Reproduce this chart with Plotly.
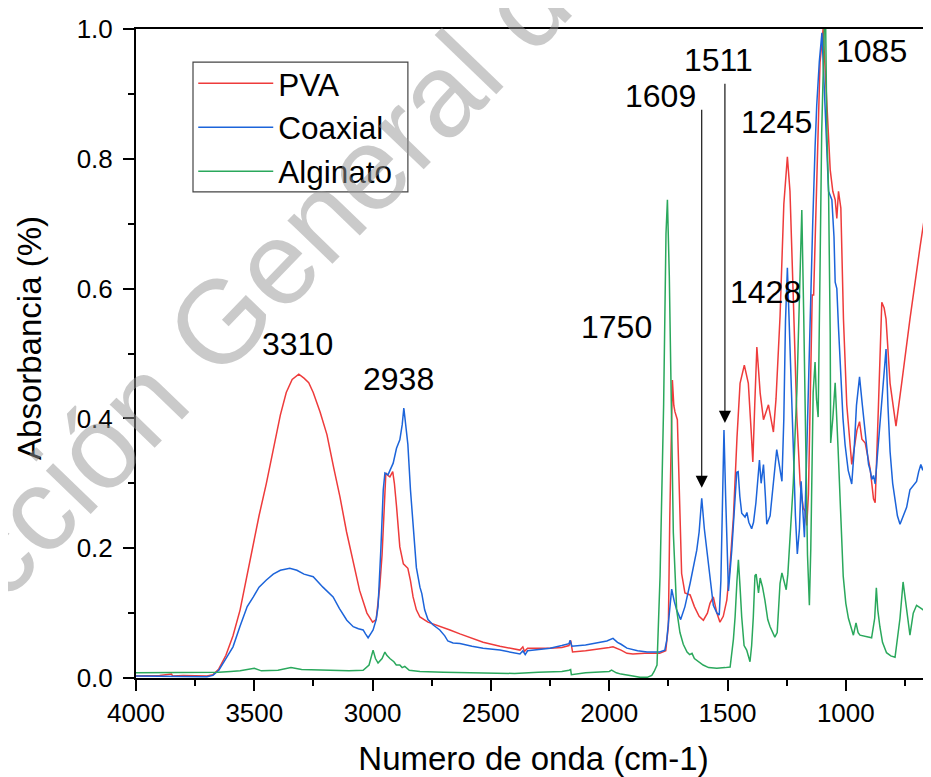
import plotly.graph_objects as go

# FTIR spectra, values (wavenumber cm-1, absorbance)
pva_wn = [4000, 3900, 3850, 3845, 3800, 3720, 3700, 3675, 3650, 3620, 3590, 3560, 3530, 3504, 3480,
          3449, 3420, 3390, 3365, 3340, 3312, 3290, 3270, 3251, 3222, 3193, 3165, 3138, 3110, 3082,
          3055, 3024, 3000, 2985, 2970, 2960, 2950, 2944, 2935, 2927, 2915, 2908, 2899, 2885, 2870,
          2851, 2840, 2829, 2815, 2800, 2766, 2716, 2673, 2631, 2580, 2533, 2462, 2410, 2377, 2365,
          2358, 2345, 2322, 2300, 2250, 2200, 2170, 2163, 2155, 2100, 2050, 2000, 1984, 1950, 1925,
          1900, 1850, 1787, 1761, 1750, 1744, 1738, 1733, 1727, 1722, 1712, 1704, 1694, 1680, 1658,
          1640, 1620, 1602, 1585, 1574, 1560, 1545, 1532, 1518, 1503, 1490, 1475, 1460, 1447, 1429,
          1412, 1400, 1393, 1385, 1376, 1368, 1362, 1348, 1327, 1306, 1295, 1278, 1262, 1247, 1236,
          1222, 1207, 1193, 1180, 1172, 1165, 1158, 1150, 1142, 1136, 1123, 1109, 1096, 1080, 1066,
          1055, 1045, 1038, 1031, 1021, 1010, 996, 975, 962, 953, 942, 932, 918, 897, 883,
          876, 862, 848, 838, 830, 813, 788, 764, 729, 686, 651, 640]
pva_abs = [0.003, 0.004, 0.006, 0.003, 0.004, 0.003, 0.003, 0.005, 0.014, 0.035, 0.065, 0.105, 0.160, 0.205, 0.250,
           0.300, 0.350, 0.405, 0.440, 0.460, 0.468, 0.462, 0.455, 0.440, 0.410, 0.375, 0.325, 0.279, 0.225, 0.177,
           0.135, 0.100, 0.086, 0.090, 0.140, 0.190, 0.280, 0.316, 0.312, 0.310, 0.318, 0.300, 0.265, 0.202, 0.176,
           0.169, 0.150, 0.125, 0.105, 0.094, 0.086, 0.080, 0.074, 0.068, 0.061, 0.055, 0.049, 0.045, 0.043, 0.048,
           0.041, 0.046, 0.046, 0.045, 0.046, 0.047, 0.050, 0.058, 0.040, 0.042, 0.044, 0.047, 0.048, 0.043, 0.038,
           0.037, 0.038, 0.038, 0.042, 0.080, 0.248, 0.400, 0.459, 0.420, 0.410, 0.398, 0.292, 0.161, 0.131, 0.128,
           0.110, 0.095, 0.089, 0.100, 0.115, 0.125, 0.100, 0.086, 0.095, 0.120, 0.170, 0.248, 0.370, 0.454, 0.482,
           0.454, 0.380, 0.333, 0.420, 0.510, 0.470, 0.439, 0.398, 0.421, 0.379, 0.430, 0.557, 0.730, 0.803, 0.750,
           0.586, 0.402, 0.299, 0.262, 0.257, 0.235, 0.283, 0.450, 0.590, 0.590, 0.750, 0.948, 1.000, 0.882, 0.783,
           0.750, 0.737, 0.708, 0.750, 0.724, 0.553, 0.421, 0.329, 0.360, 0.382, 0.395, 0.368, 0.362, 0.322, 0.276,
           0.270, 0.421, 0.579, 0.570, 0.553, 0.454, 0.388, 0.454, 0.553, 0.665, 0.750, 0.765]

coax_wn = [4000, 3900, 3800, 3700, 3675, 3650, 3620, 3590, 3560, 3530, 3504, 3480, 3449, 3420, 3390,
           3350, 3320, 3290, 3251, 3210, 3167, 3140, 3109, 3082, 3060, 3040, 3030, 3019, 3005, 2998,
           2985, 2977, 2965, 2955, 2948, 2935, 2913, 2899, 2885, 2875, 2868, 2860, 2851, 2840, 2829,
           2815, 2800, 2792, 2780, 2766, 2745, 2716, 2695, 2682, 2660, 2631, 2580, 2533, 2462, 2410,
           2377, 2365, 2355, 2345, 2322, 2250, 2200, 2170, 2165, 2158, 2100, 2050, 2010, 1984, 1965,
           1950, 1925, 1880, 1840, 1787, 1765, 1757, 1745, 1736, 1725, 1715, 1698, 1680, 1658, 1630,
           1620, 1609, 1598, 1588, 1574, 1560, 1545, 1535, 1528, 1522, 1515, 1508, 1503, 1496, 1482,
           1470, 1461, 1455, 1448, 1440, 1433, 1426, 1418, 1410, 1398, 1390, 1380, 1370, 1365, 1358,
           1352, 1348, 1340, 1334, 1320, 1305, 1292, 1282, 1270, 1262, 1255, 1247, 1240, 1228, 1222,
           1213, 1205, 1196, 1189, 1182, 1175, 1165, 1151, 1140, 1130, 1123, 1112, 1101, 1090, 1080,
           1073, 1059, 1050, 1045, 1038, 1031, 1024, 1012, 1003, 990, 975, 965, 955, 942, 930,
           918, 904, 897, 890, 883, 876, 865, 855, 843, 830, 822, 813, 802, 792, 782,
           771, 757, 743, 729, 715, 701, 692, 683, 675, 668, 660, 651, 640]
coax_abs = [0.003, 0.003, 0.002, 0.002, 0.004, 0.012, 0.030, 0.048, 0.080, 0.110, 0.125, 0.140, 0.151, 0.160, 0.166,
            0.169, 0.166, 0.160, 0.156, 0.140, 0.125, 0.107, 0.089, 0.079, 0.076, 0.074, 0.068, 0.062, 0.070, 0.074,
            0.090, 0.110, 0.200, 0.290, 0.316, 0.313, 0.331, 0.354, 0.367, 0.390, 0.416, 0.390, 0.360, 0.290, 0.230,
            0.170, 0.140, 0.130, 0.105, 0.090, 0.082, 0.074, 0.065, 0.057, 0.054, 0.053, 0.049, 0.046, 0.043, 0.040,
            0.037, 0.042, 0.036, 0.042, 0.043, 0.046, 0.050, 0.053, 0.058, 0.049, 0.051, 0.054, 0.057, 0.061, 0.055,
            0.052, 0.046, 0.042, 0.040, 0.040, 0.043, 0.058, 0.100, 0.137, 0.118, 0.105, 0.090, 0.110, 0.146, 0.197,
            0.225, 0.277, 0.230, 0.197, 0.156, 0.112, 0.100, 0.097, 0.150, 0.250, 0.382, 0.280, 0.200, 0.134, 0.197,
            0.270, 0.317, 0.318, 0.280, 0.254, 0.250, 0.248, 0.255, 0.240, 0.230, 0.240, 0.270, 0.320, 0.336, 0.300,
            0.320, 0.329, 0.280, 0.237, 0.250, 0.300, 0.352, 0.330, 0.303, 0.400, 0.550, 0.632, 0.560, 0.440, 0.356,
            0.250, 0.191, 0.230, 0.303, 0.260, 0.217, 0.350, 0.570, 0.700, 0.817, 0.882, 0.950, 0.994, 0.900, 0.800,
            0.750, 0.737, 0.680, 0.610, 0.600, 0.540, 0.487, 0.400, 0.359, 0.320, 0.299, 0.350, 0.420, 0.464, 0.420,
            0.382, 0.329, 0.320, 0.306, 0.312, 0.299, 0.350, 0.395, 0.460, 0.507, 0.420, 0.349, 0.300, 0.276, 0.250,
            0.237, 0.250, 0.263, 0.290, 0.296, 0.303, 0.318, 0.329, 0.320, 0.332, 0.328, 0.329, 0.335]

alg_wn = [4000, 3800, 3700, 3650, 3600, 3560, 3500, 3470, 3400, 3345, 3300, 3200, 3100, 3040, 3015,
          2998, 2988, 2977, 2960, 2948, 2940, 2927, 2910, 2900, 2885, 2875, 2864, 2845, 2830, 2800,
          2700, 2600, 2500, 2400, 2300, 2200, 2170, 2163, 2160, 2100, 2000, 1990, 1970, 1950, 1900,
          1870, 1840, 1820, 1810, 1798, 1785, 1770, 1760, 1754, 1746, 1739, 1729, 1715, 1701, 1687,
          1671, 1660, 1650, 1640, 1620, 1603, 1580, 1545, 1510, 1489, 1475, 1468, 1460, 1454, 1447,
          1440, 1430, 1419, 1405, 1398, 1391, 1384, 1379, 1372, 1369, 1362, 1352, 1342, 1330, 1320,
          1300, 1290, 1278, 1270, 1262, 1252, 1245, 1236, 1222, 1214, 1207, 1195, 1186, 1178, 1172,
          1162, 1154, 1148, 1138, 1130, 1124, 1117, 1110, 1102, 1091, 1085, 1080, 1073, 1066, 1064,
          1055, 1045, 1033, 1022, 1011, 1000, 989, 968, 957, 948, 940, 891, 878, 871, 865,
          856, 845, 828, 810, 792, 781, 771, 758, 745, 729, 715, 701, 685, 673, 660,
          651, 640]
alg_abs = [0.008, 0.008, 0.008, 0.009, 0.010, 0.011, 0.015, 0.011, 0.012, 0.016, 0.013, 0.012, 0.011, 0.012, 0.020,
           0.043, 0.030, 0.023, 0.030, 0.040, 0.035, 0.030, 0.025, 0.020, 0.020, 0.016, 0.018, 0.012, 0.011, 0.010,
           0.009, 0.008, 0.008, 0.007, 0.009, 0.010, 0.012, 0.013, 0.005, 0.008, 0.010, 0.012, 0.008, 0.006, 0.003,
           0.001, 0.001, 0.004, 0.010, 0.020, 0.158, 0.421, 0.685, 0.737, 0.619, 0.421, 0.224, 0.105, 0.070, 0.052,
           0.040, 0.036, 0.038, 0.030, 0.025, 0.020, 0.016, 0.015, 0.016, 0.017, 0.060, 0.094, 0.150, 0.182, 0.140,
           0.094, 0.050, 0.043, 0.025, 0.050, 0.094, 0.158, 0.160, 0.135, 0.131, 0.154, 0.140, 0.120, 0.090, 0.079,
           0.063, 0.070, 0.146, 0.162, 0.150, 0.136, 0.160, 0.210, 0.300, 0.380, 0.440, 0.600, 0.721, 0.560, 0.420,
           0.190, 0.112, 0.200, 0.440, 0.487, 0.430, 0.402, 0.600, 0.840, 1.000, 1.000, 0.840, 0.752, 0.530, 0.362,
           0.400, 0.455, 0.356, 0.250, 0.157, 0.115, 0.092, 0.066, 0.085, 0.070, 0.066, 0.062, 0.092, 0.139, 0.105,
           0.079, 0.055, 0.039, 0.034, 0.032, 0.060, 0.092, 0.148, 0.110, 0.066, 0.100, 0.112, 0.108, 0.105, 0.097,
           0.089, 0.085]

# peak labels
lbl_text = ["3310", "2938", "1750", "1609", "1511", "1245", "1428", "1085"]
lbl_x = [3319, 2892, 1970, 1784, 1538, 1293, 1339, 891]
lbl_y = [0.515, 0.461, 0.541, 0.897, 0.952, 0.857, 0.595, 0.966]

# arrows (wavenumber, tip, tail)
arrow_wn = [1609, 1511]
arrow_tip = [0.293, 0.393]
arrow_tail = [0.878, 0.918]

FONT = "Liberation Sans, Arial, sans-serif"

fig = go.Figure()
fig.add_trace(go.Scatter(x=pva_wn, y=pva_abs, mode="lines", name="PVA",
                         line=dict(color="#EE3B3B", width=1.5)))
fig.add_trace(go.Scatter(x=coax_wn, y=coax_abs, mode="lines", name="Coaxial",
                         line=dict(color="#1C64DA", width=1.5)))
fig.add_trace(go.Scatter(x=alg_wn, y=alg_abs, mode="lines", name="Alginato",
                         line=dict(color="#2AA85C", width=1.5)))

for t, x, y in zip(lbl_text, lbl_x, lbl_y):
    fig.add_annotation(x=x, y=y, text=t, showarrow=False,
                       font=dict(size=32, color="black", family=FONT))

for wn, tip, tail in zip(arrow_wn, arrow_tip, arrow_tail):
    fig.add_annotation(x=wn, y=tip, ax=wn, ay=tail, axref="x", ayref="y",
                       text="", showarrow=True, arrowhead=2, arrowsize=2.2,
                       arrowwidth=1.1, arrowcolor="black")

# y title sits a bit above the middle of the axis, so it is placed by hand
fig.add_annotation(xref="paper", yref="paper", x=-0.1333, y=0.524,
                   xanchor="center", yanchor="middle", textangle=-90,
                   text="Absorbancia (%)", showarrow=False,
                   font=dict(size=33, color="black", family=FONT))

# watermark
fig.add_annotation(xref="paper", yref="paper", x=0.355, y=0.866,
                   xanchor="center", yanchor="middle",
                   text="Dirección General de Bibliotecas", showarrow=False,
                   textangle=-46, font=dict(size=118, color="rgba(150,150,150,0.5)", family=FONT))

# legend frame
fig.add_shape(type="rect", xref="paper", yref="paper", x0=0.0717, x1=0.342, y0=0.749, y1=0.949,
              line=dict(color="#444", width=1.2), fillcolor="rgba(0,0,0,0)")

fig.update_xaxes(range=[4000, 640], tickvals=[4000, 3500, 3000, 2500, 2000, 1500, 1000],
                 ticks="outside", ticklen=11, tickwidth=2, tickcolor="black",
                 minor=dict(dtick=250, tick0=0, ticks="outside", ticklen=6, tickwidth=2, tickcolor="black"),
                 showline=True, linewidth=2, linecolor="black", mirror=True,
                 showgrid=False, zeroline=False, automargin=False,
                 tickfont=dict(size=26, color="black", family=FONT),
                 title=dict(text="Numero de onda (cm-1)", standoff=20,
                            font=dict(size=33, color="black", family=FONT)))
fig.update_yaxes(range=[0, 1], tickvals=[0, 0.2, 0.4, 0.6, 0.8, 1.0], tickformat=".1f",
                 ticks="outside", ticklen=11, tickwidth=2, tickcolor="black", ticklabelstandoff=5,
                 minor=dict(dtick=0.1, ticks="outside", ticklen=6, tickwidth=2, tickcolor="black"),
                 showline=True, linewidth=2, linecolor="black",
                 showgrid=False, zeroline=False, automargin=False,
                 tickfont=dict(size=26, color="black", family=FONT))

# the page body adds an 8px offset, so the figure is shifted up/left by 8px
fig.update_layout(width=923, height=777, margin=dict(l=128, r=0, t=21, b=107),
                  plot_bgcolor="white", paper_bgcolor="white",
                  font=dict(family=FONT, color="black"),
                  legend=dict(x=0.072, y=0.958, xanchor="left", yanchor="top",
                              bgcolor="rgba(255,255,255,0)", borderwidth=0,
                              font=dict(size=31.5, color="black", family=FONT),
                              itemwidth=75, tracegroupgap=0),
                  showlegend=True)

fig.write_html("out.html")
